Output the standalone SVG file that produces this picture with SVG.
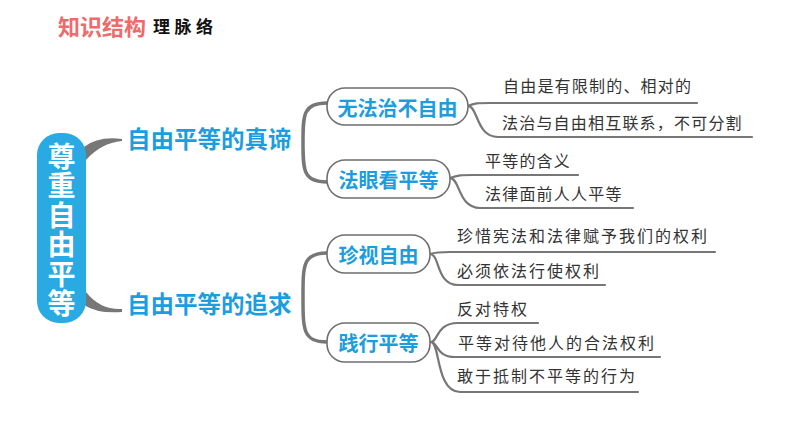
<svg xmlns="http://www.w3.org/2000/svg" width="794" height="447" viewBox="0 0 794 447">
<style>
.cjk{font-family:"Noto Sans CJK SC","Noto Sans",sans-serif;}
.hdr{font-weight:bold;font-size:22px;fill:#ef6b6b;}
.hdr2{font-weight:bold;font-size:17px;fill:#111;letter-spacing:4.5px;}
.root{font-weight:bold;font-size:28px;fill:#fff;writing-mode:vertical-rl;letter-spacing:1.5px;}
.br{font-weight:bold;font-size:23.5px;fill:#1b9de0;dominant-baseline:central;}
.nd{font-weight:bold;font-size:20px;fill:#1b9de0;dominant-baseline:central;text-anchor:middle;}
.box{fill:#fff;stroke:#6e6e6e;stroke-width:1.6;}
.leaf{font-size:16px;fill:#333;dominant-baseline:central;letter-spacing:1.2px;}
.leaf2{font-size:16px;fill:#333;dominant-baseline:central;letter-spacing:2px;}
.ln{fill:none;stroke:#777;stroke-width:2.2;stroke-linecap:round;}
.brace{fill:none;stroke:#777;stroke-width:3.5;stroke-linecap:round;}
.horn{fill:#777;}
</style>
<g id="header" class="cjk">
<text x="58" y="35" class="hdr">知识结构</text>
<text x="153" y="33" class="hdr2">理脉络</text>
</g>
<g id="connectors">
<path class="horn" d="M84 147 Q98 136 122 139 L122 141 Q101 143 86 160 Z"/>
<path class="horn" d="M86 292 Q100 310 122 309 L122 312 Q98 314 84 305 Z"/>
<path class="brace" d="M327 103 C303 103 303 115 303 142 C303 170 303 182 327 182"/>
<path class="brace" d="M327 253 C303 253 303 265 303 297 C303 330 303 342 327 342"/>
<path class="ln" d="M468 106 C474 103 478 103 490 103 L697 103"/>
<path class="ln" d="M468 106 C478 106 476 137 498 137 L752 137"/>
<path class="ln" d="M450 178 C458 175 462 175 472 175 L578 175"/>
<path class="ln" d="M450 178 C460 178 458 208 480 208 L633 208"/>
<path class="ln" d="M430 254 C436 252 440 252 450 252 L715 252"/>
<path class="ln" d="M430 254 C440 254 436 285 458 285 L605 285"/>
<path class="ln" d="M431 342 C438 342 436 323 458 323 L538 323"/>
<path class="ln" d="M431 342 C438 342 436 357 455 357 L660 357"/>
<path class="ln" d="M431 342 C440 342 436 392 460 392 L638 392"/>
</g>
<g id="root" class="cjk">
<rect x="37" y="133" width="49" height="190" rx="22" fill="#29aae2"/>
<text x="61.5" y="142" class="root">尊重自由平等</text>
</g>
<g id="branch1" class="cjk"><text x="127" y="138" class="br">自由平等的真谛</text></g>
<g id="branch2" class="cjk"><text x="127" y="303" class="br">自由平等的追求</text></g>
<g id="node1" class="cjk">
<rect x="327" y="88" width="141" height="37" rx="18" class="box"/>
<text x="397.5" y="107" class="nd">无法治不自由</text>
</g>
<g id="node2" class="cjk">
<rect x="327" y="160" width="123" height="38" rx="18" class="box"/>
<text x="388.5" y="179" class="nd">法眼看平等</text>
</g>
<g id="node3" class="cjk">
<rect x="327" y="235" width="103" height="38" rx="18" class="box"/>
<text x="378.5" y="254" class="nd">珍视自由</text>
</g>
<g id="node4" class="cjk">
<rect x="327" y="323" width="103" height="39" rx="18" class="box"/>
<text x="378.5" y="342.5" class="nd">践行平等</text>
</g>
<g id="leaf1" class="cjk"><text x="503" y="85" class="leaf">自由是有限制的、相对的</text></g>
<g id="leaf2" class="cjk"><text x="502" y="122" class="leaf">法治与自由相互联系，不可分割</text></g>
<g id="leaf3" class="cjk"><text x="485" y="160" class="leaf">平等的含义</text></g>
<g id="leaf4" class="cjk"><text x="485" y="193" class="leaf">法律面前人人平等</text></g>
<g id="leaf5" class="cjk"><text x="457" y="235" class="leaf2">珍惜宪法和法律赋予我们的权利</text></g>
<g id="leaf6" class="cjk"><text x="457" y="270" class="leaf2">必须依法行使权利</text></g>
<g id="leaf7" class="cjk"><text x="457" y="308" class="leaf2">反对特权</text></g>
<g id="leaf8" class="cjk"><text x="458" y="342" class="leaf2">平等对待他人的合法权利</text></g>
<g id="leaf9" class="cjk"><text x="457" y="375" class="leaf2">敢于抵制不平等的行为</text></g>
</svg>
